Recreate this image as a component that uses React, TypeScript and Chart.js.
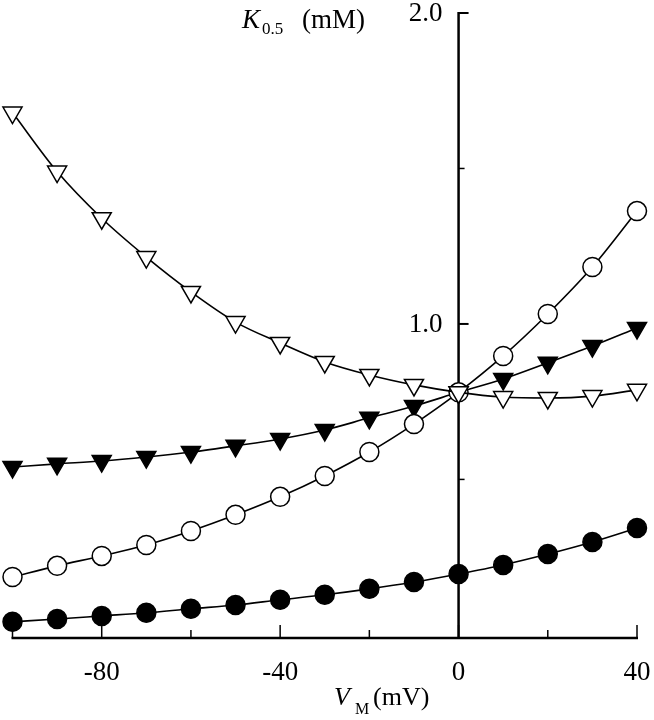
import React, { useEffect, useRef } from "react";
import { Chart, registerables } from "chart.js";

Chart.register(...registerables);

const vm = [-100, -90, -80, -70, -60, -50, -40, -30, -20, -10, 0, 10, 20, 30, 40];
const openTriangle = [1.68, 1.49, 1.34, 1.215, 1.103, 1.006, 0.939, 0.878, 0.836, 0.804, 0.78, 0.765, 0.762, 0.768, 0.788];
const filledTriangle = [0.54, 0.55, 0.559, 0.572, 0.588, 0.608, 0.63, 0.659, 0.698, 0.736, 0.78, 0.823, 0.875, 0.929, 0.987];
const openCircle = [0.186, 0.222, 0.254, 0.289, 0.334, 0.386, 0.444, 0.511, 0.588, 0.678, 0.78, 0.897, 1.032, 1.183, 1.363];
const filledCircle = [0.042, 0.051, 0.061, 0.071, 0.084, 0.096, 0.113, 0.129, 0.148, 0.17, 0.196, 0.225, 0.26, 0.299, 0.344];

const xMajorTicks = [-80, -40, 0, 40];
const xMinorTicks = [-100, -60, -20, 20];
const xTickLabels = ["-80", "-40", "0", "40"];
const yMajorTicks = [1.0, 2.0];
const yMinorTicks = [0.5, 1.5];
const yTickLabels = ["1.0", "2.0"];

const SERIF = '"Liberation Serif", "Times New Roman", serif';

const axesPlugin = {
  id: "customAxes",
  beforeDatasetsDraw(chart: any) {
    const { ctx } = chart;
    const x = chart.scales.x;
    const y = chart.scales.y;
    const x0 = x.getPixelForValue(0);
    const yBase = y.getPixelForValue(y.min);
    const xl = x.getPixelForValue(x.min);
    const xr = x.getPixelForValue(x.max);
    const yTop = y.getPixelForValue(y.max);
    ctx.save();
    ctx.strokeStyle = "#000";
    ctx.fillStyle = "#000";
    ctx.lineCap = "butt";
    // x axis
    ctx.lineWidth = 2.5;
    ctx.beginPath();
    ctx.moveTo(xl - 1, yBase);
    ctx.lineTo(xr + 1, yBase);
    ctx.stroke();
    // y axis
    ctx.beginPath();
    ctx.moveTo(x0, yBase);
    ctx.lineTo(x0, yTop - 1);
    ctx.stroke();
    // x ticks
    ctx.lineWidth = 1.5;
    xMajorTicks.forEach((v) => {
      const px = x.getPixelForValue(v);
      ctx.beginPath();
      ctx.moveTo(px, yBase);
      ctx.lineTo(px, yBase - 13);
      ctx.stroke();
    });
    xMinorTicks.forEach((v) => {
      const px = x.getPixelForValue(v);
      ctx.beginPath();
      ctx.moveTo(px, yBase);
      ctx.lineTo(px, yBase - 8);
      ctx.stroke();
    });
    // y ticks
    ctx.lineWidth = 2;
    yMajorTicks.forEach((v) => {
      const py = y.getPixelForValue(v);
      ctx.beginPath();
      ctx.moveTo(x0, py);
      ctx.lineTo(x0 + 10, py);
      ctx.stroke();
    });
    ctx.lineWidth = 1.5;
    yMinorTicks.forEach((v) => {
      const py = y.getPixelForValue(v);
      ctx.beginPath();
      ctx.moveTo(x0, py);
      ctx.lineTo(x0 + 6, py);
      ctx.stroke();
    });
    // tick labels
    ctx.font = `27px ${SERIF}`;
    ctx.textAlign = "center";
    ctx.textBaseline = "alphabetic";
    xMajorTicks.forEach((v, i) => {
      ctx.fillText(xTickLabels[i], x.getPixelForValue(v), 680);
    });
    ctx.textAlign = "right";
    ctx.textBaseline = "middle";
    yMajorTicks.forEach((v, i) => {
      ctx.fillText(yTickLabels[i], x0 - 16, y.getPixelForValue(v) + 1);
    });
    // y title: K0.5 (mM)
    ctx.textAlign = "left";
    ctx.textBaseline = "alphabetic";
    ctx.font = `italic 27px ${SERIF}`;
    ctx.fillText("K", 242, 28);
    ctx.font = `17px ${SERIF}`;
    ctx.fillText("0.5", 262, 34);
    ctx.font = `27px ${SERIF}`;
    ctx.fillText("(mM)", 302, 28);
    // x title: VM (mV)
    ctx.font = `italic 26px ${SERIF}`;
    ctx.fillText("V", 334, 705);
    ctx.font = `16px ${SERIF}`;
    ctx.fillText("M", 355, 714);
    ctx.font = `26px ${SERIF}`;
    ctx.fillText("(mV)", 373, 705);
    ctx.restore();
  },
};

function makeData(values: number[]) {
  return vm.map((v, i) => ({ x: v, y: values[i] }));
}

export default function App() {
  const canvasRef = useRef<HTMLCanvasElement | null>(null);

  useEffect(() => {
    if (!canvasRef.current) return;
    const common = {
      borderColor: "#000",
      borderWidth: 1.6,
      pointBorderColor: "#000",
      pointBorderWidth: 1.5,
      tension: 0.4,
      cubicInterpolationMode: "monotone" as const,
      fill: false,
      clip: false as any,
    };
    const chart = new Chart(canvasRef.current, {
      type: "line",
      data: {
        datasets: [
          {
            ...common,
            label: "open triangle",
            data: makeData(openTriangle),
            pointStyle: "triangle",
            pointRotation: 180,
            pointRadius: 11,
            pointBackgroundColor: "#fff",
          },
          {
            ...common,
            label: "open circle",
            data: makeData(openCircle),
            pointStyle: "circle",
            pointRadius: 9.5,
            pointBackgroundColor: "#fff",
          },
          {
            ...common,
            label: "filled triangle",
            data: makeData(filledTriangle),
            pointStyle: "triangle",
            pointRotation: 180,
            pointRadius: 11,
            pointBackgroundColor: "#000",
          },
          {
            ...common,
            label: "filled circle",
            data: makeData(filledCircle),
            pointStyle: "circle",
            pointRadius: 9.5,
            pointBackgroundColor: "#000",
          },
        ],
      },
      options: {
        responsive: false,
        animation: false,
        layout: { padding: { left: 11, right: 17, top: 13, bottom: 82 } },
        plugins: { legend: { display: false }, tooltip: { enabled: false } },
        scales: {
          x: { type: "linear", min: -100, max: 40, display: false },
          y: { type: "linear", min: -0.01, max: 2.0, display: false },
        },
      },
      plugins: [axesPlugin],
    });
    return () => chart.destroy();
  }, []);

  return (
    <div style={{ position: "fixed", left: 0, top: 0, width: 654, height: 720, background: "#fff" }}>
      <canvas ref={canvasRef} width={654} height={720} style={{ display: "block" }} />
    </div>
  );
}
